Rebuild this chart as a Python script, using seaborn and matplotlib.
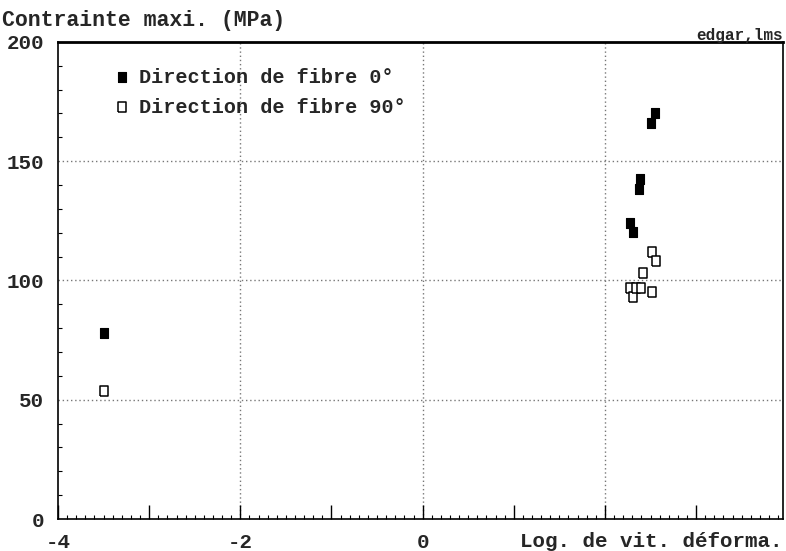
import matplotlib
matplotlib.use("Agg")
import matplotlib.pyplot as plt
import matplotlib.ticker as ticker
import seaborn as sns
import pandas as pd

# Données
fibre0_x = [-3.49, 2.28, 2.31, 2.37, 2.39, 2.50, 2.55]
fibre0_y = [78, 124, 120.5, 138.5, 142.5, 166, 170]
fibre90_x = [-3.50, 2.27, 2.31, 2.34, 2.40, 2.42, 2.52, 2.52, 2.56]
fibre90_y = [53.5, 96.7, 93.2, 96.7, 96.7, 103, 95.3, 112, 108]

label0 = "Direction de fibre 0°"
label90 = "Direction de fibre 90°"
x_ticks = [-4, -2, 0]
y_ticks = [0, 50, 100, 150, 200]

df0 = pd.DataFrame({"x": fibre0_x, "y": fibre0_y})
df90 = pd.DataFrame({"x": fibre90_x, "y": fibre90_y})

sns.set_style("white")
plt.rcParams["font.family"] = ["Liberation Mono", "DejaVu Sans Mono"]
plt.rcParams["font.weight"] = "bold"

rect = [(-0.38, -0.5), (0.38, -0.5), (0.38, 0.5), (-0.38, 0.5), (-0.38, -0.5)]

fig = plt.figure(figsize=(7.86, 5.51), dpi=100)
ax = fig.add_axes([0.0738, 0.058, 0.922, 0.866])

sns.scatterplot(data=df0, x="x", y="y", marker=rect, s=55, color="black",
                edgecolor="black", linewidth=0.8, label=label0, ax=ax)
sns.scatterplot(data=df90, x="x", y="y", marker=rect, s=55, facecolor="white",
                edgecolor="black", linewidth=1.1, label=label90, ax=ax)

ax.set_xlim(-4, 3.95)
ax.set_ylim(0, 200)

# grille pointillée
for gx in [-2, 0, 2]:
    ax.axvline(gx, color="#777777", linestyle=(0, (1, 2)), linewidth=1, zorder=0)
for gy in [50, 100, 150]:
    ax.axhline(gy, color="#777777", linestyle=(0, (1, 2)), linewidth=1, zorder=0)

ax.xaxis.set_major_locator(ticker.MultipleLocator(1))
ax.xaxis.set_minor_locator(ticker.MultipleLocator(0.1))
ax.xaxis.set_major_formatter(ticker.FuncFormatter(
    lambda v, _: f"{int(round(v))}" if int(round(v)) in x_ticks else ""))
ax.yaxis.set_major_locator(ticker.FixedLocator(y_ticks))
ax.yaxis.set_minor_locator(ticker.MultipleLocator(10))
ax.tick_params(bottom=True, left=True, which="both")
ax.tick_params(axis="x", which="major", direction="in", length=10, width=1,
               labelsize=15, pad=10, color="black")
ax.tick_params(axis="x", which="minor", direction="in", length=3, width=0.8,
               color="black")
ax.tick_params(axis="y", which="major", direction="in", length=0,
               labelsize=15, pad=10)
ax.tick_params(axis="y", which="minor", direction="in", length=3, width=0.8,
               color="black")

for side in ["left", "bottom", "right"]:
    ax.spines[side].set_linewidth(1.2)
    ax.spines[side].set_color("black")
ax.spines["top"].set_linewidth(2)
ax.spines["top"].set_color("black")

ax.set_xlabel("")
ax.set_ylabel("")

fig.text(0.003, 0.962, "Contrainte maxi. (MPa)", fontsize=15.5,
         fontweight="bold", ha="left", va="center")
fig.text(0.996, 0.935, "edgar,lms", fontsize=11.5, fontweight="bold",
         ha="right", va="center")
fig.text(0.996, 0.018, "Log. de vit. déforma.", fontsize=15, fontweight="bold",
         ha="right", va="center")

ax.legend(loc="upper left", bbox_to_anchor=(0.066, 0.963), frameon=False,
          prop={"size": 14.5, "weight": "bold"}, handlelength=0.8,
          handletextpad=0.45, labelspacing=0.55, borderaxespad=0)

fig.savefig("out.png", dpi=100)
